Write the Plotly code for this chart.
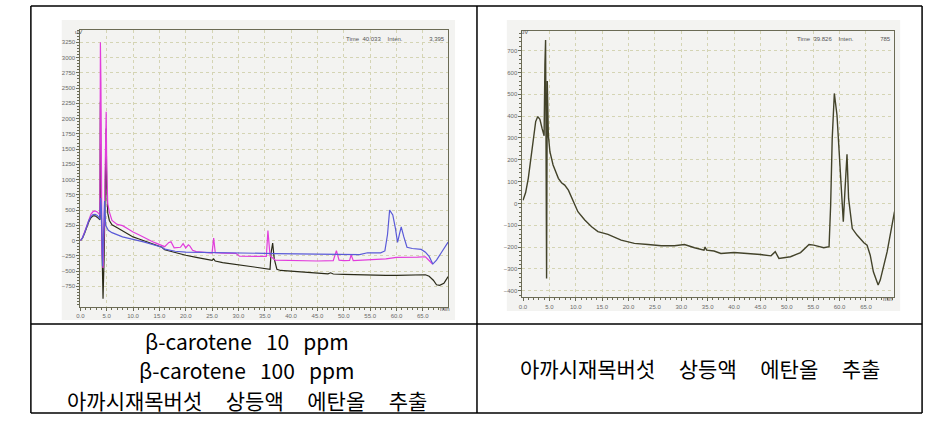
import plotly.graph_objects as go

W, H = 939, 422

# ---------------- Chart 1 data (left panel) ----------------
t_std10 = [0, 0.4, 0.8, 1.2, 1.6, 2.0, 2.4, 2.8, 3.2, 3.5, 3.7, 3.8, 3.9, 4.1, 4.3, 4.5, 4.7, 4.9, 5.0, 5.2, 5.5,
           6, 7, 8, 9, 10, 11, 12, 13, 14, 15.5, 16, 18, 20, 22, 24, 25, 25.3, 25.6, 27, 30, 32, 34, 35.5, 36,
           36.2, 36.5, 36.8, 37.3, 38, 40, 42, 45, 47, 47.5, 48, 50, 52, 55, 58, 60, 62, 64, 65.5, 66.2, 67,
           67.6, 68.2, 69, 69.8]
v_std10 = [0, 40, 120, 220, 310, 375, 405, 405, 385, 360, 340, 2276, 800, -400, -952, -300, 600, 1838, 900, 450,
           330, 260, 210, 160, 110, 60, 30, 0, -30, -60, -110, -150, -200, -240, -275, -310, -325, -300, -335,
           -360, -395, -420, -440, -460, -470, -200, -40, -300, -470, -490, -505, -515, -530, -545, -528, -548,
           -555, -562, -570, -572, -570, -570, -568, -560, -585, -650, -725, -735, -700, -590, -415]

t_std100 = [0, 0.4, 0.8, 1.2, 1.6, 2.0, 2.4, 2.8, 3.2, 3.5, 3.7, 3.8, 3.9, 4.1, 4.3, 4.5, 4.7, 4.9, 5.0, 5.2, 5.5,
            6, 7, 8, 9, 10, 11, 12, 13, 14, 16, 16.8, 17.2, 17.8, 19, 19.5, 20, 20.5, 20.8, 21.3, 22, 24, 25,
            25.3, 25.6, 27, 29.5, 30.2, 32, 34, 35.3, 35.6, 36.0, 37, 40, 43, 45, 48, 48.6, 49.1, 50, 51.1, 51.4,
            51.8, 55, 58, 60, 62, 64, 65.5, 66.8]
v_std100 = [0, 50, 140, 250, 350, 430, 475, 485, 470, 445, 420, 3250, 2600, -200, -450, 200, 1600, 2112, 1200,
            600, 470, 330, 265, 245, 195, 140, 100, 55, 10, -30, -100, -30, -20, -120, -110, -50, -120, -70, -90,
            -160, -180, -200, -205, 40, -200, -205, -210, -255, -260, -262, -260, 165, -250, -320, -330, -330,
            -335, -330, -165, -320, -330, -325, -235, -330, -320, -300, -275, -278, -272, -265, -380]

t_ext1 = [0, 0.4, 0.8, 1.2, 1.6, 2.0, 2.4, 2.8, 3.2, 3.5, 3.7, 3.85, 4.0, 4.2, 4.4, 4.6, 4.8, 5.0, 5.3, 6, 7, 8,
          9, 10, 11, 12, 13, 14, 15.5, 16, 18, 20, 25, 30, 35, 37, 40, 45, 50, 53, 54.5, 57, 57.8, 58.3, 58.7,
          59.3, 59.8, 60.2, 60.6, 60.9, 61.4, 62.0, 63, 64.7, 65.5, 66.2, 66.9, 67.6, 68.5, 69.8]
v_ext1 = [0, 45, 130, 240, 330, 395, 428, 430, 410, 380, 350, 700, 500, -420, 200, 650, 250, 220, 170, 130, 90,
          60, 40, 25, 0, -20, -45, -70, -110, -140, -175, -190, -195, -195, -210, -215, -220, -225, -235, -230,
          -200, -200, -170, 100, 500, 420, 200, -30, 120, 225, 60, -110, -130, -145, -190, -260, -385, -320,
          -200, -25]

# ---------------- Chart 2 data (right panel) ----------------
t_ext2 = [0, 0.5, 1.0, 1.5, 2.0, 2.4, 2.8, 3.2, 3.6, 4.0, 4.15, 4.28, 4.47, 4.6, 4.8, 5.1, 5.7, 6.7, 7.3, 7.9,
          8.6, 9.5, 10.4, 11.7, 13.0, 14.2, 15.5, 16.1, 18.6, 21.1, 23.7, 26.2, 28.7, 30.6, 32.5, 34.3, 34.5,
          34.8, 36.2, 37.5, 40, 42.5, 45, 47, 47.8, 48.5, 50.7, 52.6, 54.2, 55.1, 57.0, 58.0, 58.3, 58.6, 59.0,
          59.5, 60.2, 60.7, 61.0, 61.4, 61.7, 62.4, 63.3, 64.6, 65.2, 65.8, 66.4, 67.3, 67.7, 69.0, 70.4]
v_ext2 = [15, 50, 115, 210, 310, 375, 398, 385, 345, 310, 637, 749, -344, 561, 313, 237, 176, 115, 95, 84, 61,
          15, -38, -76, -107, -129, -140, -142, -168, -183, -188, -194, -194, -188, -203, -214, -200, -214, -218,
          -229, -225, -229, -234, -240, -221, -252, -244, -225, -188, -191, -203, -198, -8, 298, 504, 405, 145,
          -84, 54, 225, 23, -115, -145, -180, -191, -237, -313, -374, -351, -222, -38]

# tick labels
x_ticks = [0, 5, 10, 15, 20, 25, 30, 35, 40, 45, 50, 55, 60, 65]
x_labels = ["0.0", "5.0", "10.0", "15.0", "20.0", "25.0", "30.0", "35.0", "40.0", "45.0", "50.0", "55.0", "60.0", "65.0"]
y1_ticks = list(range(-750, 3251, 250))
y2_ticks = list(range(-400, 701, 100))

captions_left = ["β-carotene 10 ppm", "β-carotene 100 ppm", "아까시재목버섯 상등액 에탄올 추출"]
caption_right = "아까시재목버섯 상등액 에탄올 추출"

fig = go.Figure()
fig.add_trace(go.Scatter(x=t_std10, y=v_std10, mode="lines", line=dict(color="#2a2a18", width=1.2),
                         xaxis="x", yaxis="y", showlegend=False))
fig.add_trace(go.Scatter(x=t_std100, y=v_std100, mode="lines", line=dict(color="#e23ddc", width=1.2),
                         xaxis="x", yaxis="y", showlegend=False))
fig.add_trace(go.Scatter(x=t_ext1, y=v_ext1, mode="lines", line=dict(color="#5a5ad8", width=1.2),
                         xaxis="x", yaxis="y", showlegend=False))
fig.add_trace(go.Scatter(x=t_ext2, y=v_ext2, mode="lines", line=dict(color="#43432a", width=1.4),
                         xaxis="x2", yaxis="y2", showlegend=False))

tickfont = dict(family="Liberation Sans", size=6, color="#6a6a6a")
axis_common = dict(showline=True, linecolor="#6b6b55", linewidth=1, mirror=True, ticks="outside", ticklen=3,
                   tickcolor="#6b6b55", tickfont=tickfont, showgrid=True, gridcolor="#d4d4b4", griddash="dot",
                   gridwidth=1, zeroline=False, fixedrange=True)

def px(x):
    return x / W

def py(y):
    return 1 - y / H

fig.update_layout(
    width=W, height=H, margin=dict(l=0, r=0, t=0, b=0),
    paper_bgcolor="white", plot_bgcolor="#fefec6",
    xaxis=dict(domain=[px(76.7), px(446)], range=[0, 69.8], tickvals=x_ticks, ticktext=x_labels,
               anchor="y", minor=dict(dtick=1, ticklen=2, tickcolor="#6b6b55", showgrid=False), **axis_common),
    yaxis=dict(domain=[py(307), py(30)], range=[-1089, 3453], tickvals=y1_ticks,
               anchor="x", minor=dict(dtick=50, ticklen=2, tickcolor="#6b6b55", showgrid=False), **axis_common),
    xaxis2=dict(domain=[px(520.7), px(894.3)], range=[-0.1, 70.4], tickvals=x_ticks, ticktext=x_labels,
                anchor="y2", minor=dict(dtick=1, ticklen=2, tickcolor="#6b6b55", showgrid=False), **axis_common),
    yaxis2=dict(domain=[py(297.3), py(31)], range=[-430, 790], tickvals=y2_ticks,
                anchor="x2", minor=dict(dtick=20, ticklen=2, tickcolor="#6b6b55", showgrid=False), **axis_common),
)

shapes = []
# light panels behind charts
shapes.append(dict(type="rect", xref="paper", yref="paper", x0=px(58), x1=px(453), y0=py(320), y1=py(20),
                   fillcolor="#f3f3f1", line=dict(width=0), layer="below"))
shapes.append(dict(type="rect", xref="paper", yref="paper", x0=px(505), x1=px(900), y0=py(311), y1=py(20),
                   fillcolor="#f3f3f1", line=dict(width=0), layer="below"))
# table lines
tl = dict(color="black", width=1.5)
for (x0, y0, x1, y1) in [(27, 6, 922, 6), (27, 324, 922, 324), (27, 413, 922, 413),
                         (27, 6, 27, 413), (475, 6, 475, 413), (922, 6, 922, 413)]:
    shapes.append(dict(type="line", xref="paper", yref="paper", x0=px(x0), x1=px(x1), y0=py(y0), y1=py(y1), line=tl))
fig.update_layout(shapes=shapes)

ann = []
small = dict(family="Liberation Sans", size=6, color="#555555")
ann.append(dict(text="uV", x=px(75), y=py(27), xref="paper", yref="paper", showarrow=False, font=small,
                xanchor="center"))
ann.append(dict(text="uV", x=px(522.7), y=py(27), xref="paper", yref="paper", showarrow=False, font=small,
                xanchor="center"))
ann.append(dict(text="min", x=px(442.5), y=py(314), xref="paper", yref="paper", showarrow=False, font=small,
                xanchor="center"))
ann.append(dict(text="min", x=px(888), y=py(304), xref="paper", yref="paper", showarrow=False, font=small,
                xanchor="center"))
ann.append(dict(text="Time  40.033    Inten.                3,395", x=px(445), y=py(34), xref="paper", yref="paper",
                xanchor="right", showarrow=False, font=small))
ann.append(dict(text="Time  39.826    Inten.                785", x=px(893), y=py(34), xref="paper", yref="paper",
                xanchor="right", showarrow=False, font=small))

capfont = dict(family="Noto Sans CJK KR", size=21, color="black")
spacers = ["\u00a0" * 3, "\u00a0" * 3, "\u00a0" * 5]
for txt, yy, sp in zip(captions_left, [340.5, 370, 399.5], spacers):
    ann.append(dict(text=txt.replace(" ", sp), x=px(244), y=py(yy), xref="paper", yref="paper",
                    xanchor="center", yanchor="middle", showarrow=False, font=capfont))
ann.append(dict(text=caption_right.replace(" ", "\u00a0" * 5), x=px(699), y=py(368), xref="paper",
                yref="paper", xanchor="center", yanchor="middle", showarrow=False, font=capfont))
fig.update_layout(annotations=ann)

fig.write_html("out.html")
